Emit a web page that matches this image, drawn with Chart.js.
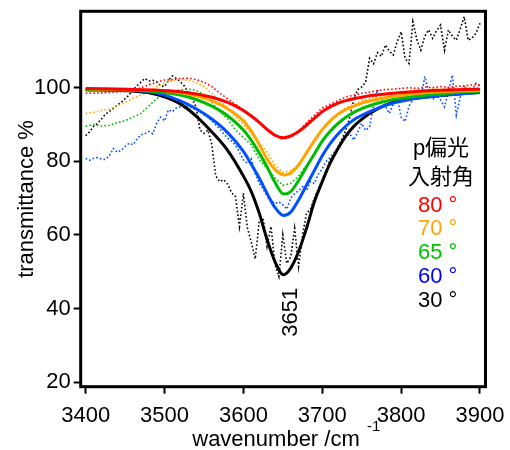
<!DOCTYPE html>
<html>
<head>
<meta charset="utf-8">
<script src="https://cdn.jsdelivr.net/npm/chart.js@4.4.0/dist/chart.umd.min.js"></script>
<style>
body{margin:0;background:#fff;}
#wrap{width:510px;height:450px;position:relative;}
</style>
</head>
<body>
<div id="wrap"><canvas id="grafico"></canvas></div>
<script>
// ===== DATOS =====
const xTicks=[3400,3500,3600,3700,3800,3900];
const yTicks=[20,40,60,80,100];
const peakWn=3651;

// fitted curves (solid)
const wnFit=[3400,3450,3480,3500,3520,3540,3560,3580,3600,3610,3620,3630,3640,3651,3660,3670,3680,3690,3700,3710,3720,3730,3740,3750,3760,3780,3800,3820,3850,3880,3900];
const fit80=[99.8,99.6,99.4,99.2,98.9,98.3,97.4,96.0,93.8,92.3,90.6,88.7,87.1,86.4,86.9,88.1,89.8,91.7,93.5,94.8,95.8,96.5,97.0,97.4,97.8,98.3,98.7,99.0,99.3,99.5,99.6];
const fit70=[99.7,99.6,99.4,99.2,98.7,97.8,96.4,94.3,91.0,88.2,84.6,80.6,77.8,76.3,76.8,79.0,82.3,85.6,88.6,91.0,92.8,94.1,95.0,95.8,96.4,97.3,97.9,98.4,98.9,99.2,99.3];
const fit65=[99.5,99.4,99.1,98.7,98.0,96.8,95.0,92.4,88.5,85.7,82.3,78.5,74.3,71.1,71.8,74.8,78.5,82.0,85.5,88.2,90.3,92.0,93.3,94.3,95.1,96.3,97.1,97.7,98.3,98.8,99.0];
const fit60=[99.4,99.3,98.9,98.0,96.4,94.3,91.5,87.8,82.7,79.2,75.5,71.3,67.5,65.3,66.2,69.5,73.5,77.5,81.5,84.8,87.4,89.6,91.3,92.5,93.5,95.2,96.3,97.1,97.9,98.4,98.7];
const fit30=[99.5,99.2,98.6,97.5,95.6,92.3,88.0,83.0,76.0,71.8,66.0,58.8,52.8,49.2,51.0,55.5,61.8,69.0,74.5,79.5,83.5,86.9,89.5,91.4,93.0,95.3,96.6,97.2,97.9,98.4,98.7];

// measured spectra (dotted)
const wn10=[3400,3410,3420,3430,3440,3450,3460,3470,3480,3490,3500,3510,3520,3530,3540,3550,3560,3570,3580,3590,3600,3610,3620,3630,3640,3650,3660,3670,3680,3690,3700,3710,3720,3730,3740,3750,3760,3770,3780,3790,3800,3810,3820,3830,3840,3850,3860,3870,3880,3890,3900];
const obs80=[98.5,98.5,98.6,98.7,98.9,99.0,99.3,100.0,100.8,101.5,102.1,102.2,102.5,102.6,102.2,101.5,100.3,98.5,97.0,95.5,94.0,92.5,90.5,88.5,87.0,86.0,86.5,88.0,90.5,92.5,94.5,95.5,96.5,97.5,98.0,98.5,98.8,99.2,99.5,99.6,99.8,100.0,99.8,100.2,100.0,100.3,100.1,100.4,100.5,100.8,100.8];
const obs70=[93.0,93.3,93.8,94.2,95.0,96.0,97.1,98.0,98.8,100.3,101.3,102.0,102.3,102.0,101.5,100.3,98.5,96.5,94.5,92.0,90.0,87.5,85.0,82.5,79.0,77.0,77.5,79.0,82.5,86.0,88.5,91.0,93.0,94.5,95.5,96.5,97.0,97.5,98.0,98.5,98.8,99.0,99.5,99.2,99.8,99.5,100.0,99.6,100.2,100.0,100.2];
const obs65=[89.5,90.0,89.6,89.8,90.5,91.0,92.0,93.0,95.0,97.0,98.5,99.0,99.4,99.6,99.3,98.0,96.0,93.5,91.5,88.5,86.5,84.5,80.5,78.0,75.5,73.5,74.0,76.0,79.0,82.0,85.5,88.0,90.0,92.0,93.2,94.5,95.3,96.0,96.5,97.0,97.5,98.0,97.5,98.5,98.0,98.5,98.3,98.5,98.8,99.0,99.0];
const wn5=[3400,3405,3410,3415,3420,3425,3430,3435,3440,3445,
 3450,3455,3460,3465,3470,3475,3480,3485,3490,3495,
 3500,3505,3510,3515,3520,3525,3530,3535,3540,3545,
 3550,3555,3560,3565,3570,3575,3580,3585,3590,3595,
 3600,3605,3610,3615,3620,3625,3630,3635,3640,3645,
 3650,3655,3660,3665,3670,3675,3680,3685,3690,3695,
 3700,3705,3710,3715,3720,3725,3730,3735,3740,3745,
 3750,3755,3760,3765,3770,3775,3780,3785,3790,3795,
 3800,3805,3810,3815,3820,3825,3830,3835,3840,3845,
 3850,3855,3860,3865,3870,3875,3880,3885,3890,3895,3900];
const obs60=[80.8,80.3,80.8,81.0,80.6,80.5,81.5,83.5,82.5,83.0,
 84.0,84.9,84.5,86.0,87.2,87.5,88.1,87.5,90.3,92.0,
 91.0,94.0,93.5,94.5,94.8,95.0,94.9,94.5,94.0,93.5,
 92.6,92.0,91.0,89.9,88.8,87.5,86.3,85.5,84.4,82.5,
 80.4,79.5,80.7,76.5,74.1,72.5,70.5,69.5,68.5,69.0,
 68.2,67.0,70.0,71.3,72.0,73.1,72.0,74.5,74.0,76.5,
 78.0,80.0,81.0,82.5,83.5,85.0,86.7,87.5,85.8,88.0,
 90.3,88.4,89.4,95.0,99.4,96.7,95.0,93.0,95.5,97.5,
 92.0,90.8,95.0,96.7,99.0,97.0,103.0,99.0,96.7,98.0,
 96.7,94.8,99.0,103.4,92.6,97.5,100.7,98.5,99.4,101.2,100.4];
const obs30=[87.0,88.0,89.5,90.3,91.5,92.8,93.5,94.4,95.2,96.0,
 97.0,98.0,99.4,100.5,101.5,102.5,101.8,102.0,101.6,100.5,
 100.3,102.0,103.2,102.5,101.6,100.5,98.8,97.0,94.8,88.5,
 87.6,88.5,84.5,76.0,74.5,75.0,73.8,71.5,70.4,62.3,
 71.3,62.0,58.0,53.5,63.5,64.6,56.9,62.3,52.0,48.7,
 60.0,52.3,54.0,61.8,51.4,60.0,65.9,67.0,70.0,72.5,
 75.0,77.5,80.5,82.0,84.0,86.0,88.5,92.0,97.0,99.5,
 100.2,101.5,108.0,106.5,109.5,108.5,111.6,110.0,108.9,112.5,
 115.2,108.0,106.6,117.9,113.0,110.2,114.0,115.7,113.4,115.5,
 117.0,110.2,115.7,114.0,112.9,116.0,119.3,112.9,113.5,114.8,117.5];

const angulos=["80 °","70 °","65 °","60 °","30 °"];
const colLinea=["#ff0000","#ffa500","#00bb00","#0050ff","#000000"];
const colTexto=["#ff0000","#ffa500","#00c000","#0000ff","#000000"];

const FONT='"Liberation Sans", Arial, "Noto Sans CJK JP", sans-serif';

// ===== DATASETS =====
const serie=(xs,ys,color,solid)=>({
 data:xs.map((x,i)=>({x:x,y:ys[i]})),
 borderColor:color,
 borderWidth:solid?3:1.6,
 borderDash:solid?[]:[1.6,2.2],
 pointRadius:0,
 fill:false,
 tension:0,
 cubicInterpolationMode:solid?"monotone":"default",
 order:solid?0:1
});
const fits=[fit80,fit70,fit65,fit60,fit30];
const obs=[[wn10,obs80],[wn10,obs70],[wn10,obs65],[wn5,obs60],[wn5,obs30]];
const datasets=[];
fits.forEach((f,i)=>datasets.push(serie(wnFit,f,colLinea[i],true)));
obs.forEach((o,i)=>datasets.push(serie(o[0],o[1],colLinea[i],false)));

// ===== TEXTOS + MARCO =====
const textos={id:"textos",afterDraw(c){
 const ctx=c.ctx,a=c.chartArea,sx=c.scales.x,sy=c.scales.y;
 ctx.save();
 ctx.strokeStyle="#000";ctx.lineWidth=3;
 ctx.strokeRect(a.left,a.top,a.right-a.left,a.bottom-a.top);
 ctx.fillStyle="#000";
 ctx.font="22px "+FONT;
 // eje y
 ctx.save();
 ctx.translate(33,(a.top+a.bottom)/2);ctx.rotate(-Math.PI/2);
 ctx.textAlign="center";ctx.fillText("transmittance %",0,0);
 ctx.restore();
 // eje x
 ctx.textAlign="center";ctx.fillText("wavenumber /cm",276,446);
 ctx.font="15px "+FONT;ctx.textAlign="left";ctx.fillText("-1",367,431);
 // pico
 ctx.font="22px "+FONT;
 ctx.save();
 ctx.translate(sx.getPixelForValue(peakWn)+13,sy.getPixelForValue(39));ctx.rotate(-Math.PI/2);
 ctx.textAlign="center";ctx.fillText(String(peakWn),0,0);
 ctx.restore();
 // leyenda
 ctx.textAlign="center";
 ctx.fillText("p偏光",441,155);
 ctx.fillText("入射角",441,184);
 ctx.textAlign="left";
 angulos.forEach((t,i)=>{ctx.fillStyle=colTexto[i];ctx.fillText(t,418,211.5+i*23.8);});
 ctx.restore();
}};

// ===== GRAFICO =====
new Chart(document.getElementById("grafico"),{
 type:"line",
 data:{datasets:datasets},
 options:{
  animation:false,responsive:true,maintainAspectRatio:false,
  layout:{padding:{left:0,top:11.3,right:24.5,bottom:0}},
  plugins:{legend:{display:false},tooltip:{enabled:false}},
  scales:{
   x:{type:"linear",min:3393.7,max:3907,
    afterBuildTicks:s=>{s.ticks=xTicks.map(v=>({value:v}));},
    afterFit:s=>{s.height=63.3;s.paddingLeft=0;s.paddingRight=0;},
    ticks:{color:"#000",font:{family:FONT,size:22},padding:9,maxRotation:0,callback:v=>String(v)},
    grid:{drawOnChartArea:false,tickLength:7,tickWidth:2,tickColor:"#000"},
    border:{display:false}},
   y:{type:"linear",min:18.8,max:120.75,
    afterBuildTicks:s=>{s.ticks=yTicks.map(v=>({value:v}));},
    afterFit:s=>{s.width=80.7;s.paddingTop=0;s.paddingBottom=0;},
    ticks:{color:"#000",font:{family:FONT,size:22},padding:3,callback:v=>String(v)},
    grid:{drawOnChartArea:false,tickLength:7,tickWidth:2,tickColor:"#000"},
    border:{display:false}}
  }
 },
 plugins:[textos]
});
</script>
</body>
</html>
